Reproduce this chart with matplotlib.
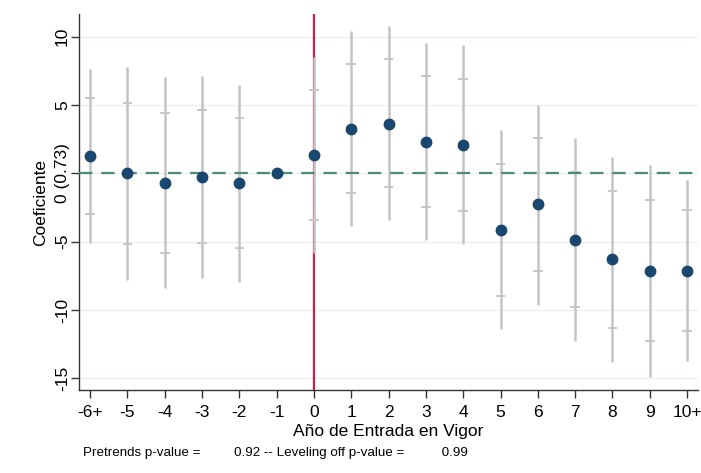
import matplotlib.pyplot as plt

plt.rcParams['font.family'] = ['Liberation Sans', 'DejaVu Sans']

# event time labels
labels = ['-6+', '-5', '-4', '-3', '-2', '-1', '0', '1', '2', '3', '4',
          '5', '6', '7', '8', '9', '10+']

# point estimates
coef = [1.24, 0.0, -0.68, -0.27, -0.71, 0.0, 1.34, 3.28, 3.65, 2.29, 2.09,
        -4.16, -2.26, -4.84, -6.30, -7.13, -7.13]

# inner confidence interval (with caps)
inner_lo = [-2.99, -5.18, -5.79, -5.13, -5.47, 0.0, -3.43, -1.44, -1.02, -2.48, -2.72,
            -8.98, -7.13, -9.78, -11.29, -12.26, -11.51]
inner_hi = [5.50, 5.16, 4.45, 4.67, 4.09, 0.0, 6.11, 8.03, 8.39, 7.10, 6.93,
            0.68, 2.61, 0.10, -1.29, -1.97, -2.65]

# outer confidence interval (plain line)
outer_lo = [-5.13, -7.81, -8.37, -7.64, -7.93, 0.0, -5.86, -3.82, -3.41, -4.89, -5.18,
            -11.41, -9.61, -12.26, -13.80, -14.87, -13.74]
outer_hi = [7.64, 7.79, 7.03, 7.13, 6.50, 0.0, 8.49, 10.39, 10.78, 9.51, 9.37,
            3.14, 5.04, 2.61, 1.22, 0.61, -0.46]

yticks = [-15, -10, -5, 0, 5, 10]
ytick_labels = ['-15', '-10', '-5', '0 (0.73)', '5', '10']

x = list(range(len(labels)))
event_zero = labels.index('0')

fig = plt.figure(figsize=(7.01, 4.73), dpi=100)
ax = fig.add_axes([0.1127, 0.1755, 0.8833, 0.7945])

grey = '#c4c4c4'
navy = '#1a476f'

# red vertical line at treatment year (under the CIs)
ax.axvline(event_zero, color='#cc1f52', lw=1.6, zorder=1)

# outer CI
ax.vlines(x, outer_lo, outer_hi, color=grey, lw=1.8, zorder=2)
# inner CI caps
for xi, lo, hi in zip(x, inner_lo, inner_hi):
    if lo == hi:
        continue
    ax.hlines([lo, hi], xi - 0.13, xi + 0.13, color=grey, lw=1.3, zorder=2)

# zero line
ax.axhline(0, color='#4f8a78', lw=1.6, ls=(0, (6, 4)), zorder=3)

# points
ax.plot(x, coef, 'o', color=navy, ms=7.5, zorder=4)

ax.set_xlim(-0.3, 16.3)
ax.set_ylim(-15.85, 11.65)
ax.set_xticks(x)
ax.set_xticklabels(labels, fontsize=12.5)
ax.set_yticks(yticks)
ax.set_yticklabels(ytick_labels, fontsize=12.5, rotation=90, va='center')
ax.grid(axis='y', color='#e8f0f2', lw=1.0)
ax.set_axisbelow(True)

for s in ['top', 'right']:
    ax.spines[s].set_visible(False)
for s in ['left', 'bottom']:
    ax.spines[s].set_color('#333333')
    ax.spines[s].set_linewidth(1.0)
ax.tick_params(axis='both', length=6, width=1.0, color='#333333')
ax.tick_params(axis='x', pad=5)
ax.tick_params(axis='y', pad=0.5)

ax.set_xlabel('Año de Entrada en Vigor', fontsize=12.5, labelpad=3)
ax.set_ylabel('Coeficiente', fontsize=12.5, labelpad=5)

fig.text(0.118, 0.035,
         'Pretrends p-value =         0.92 -- Leveling off p-value =          0.99',
         fontsize=9.6)

fig.savefig('out.png', dpi=100)
